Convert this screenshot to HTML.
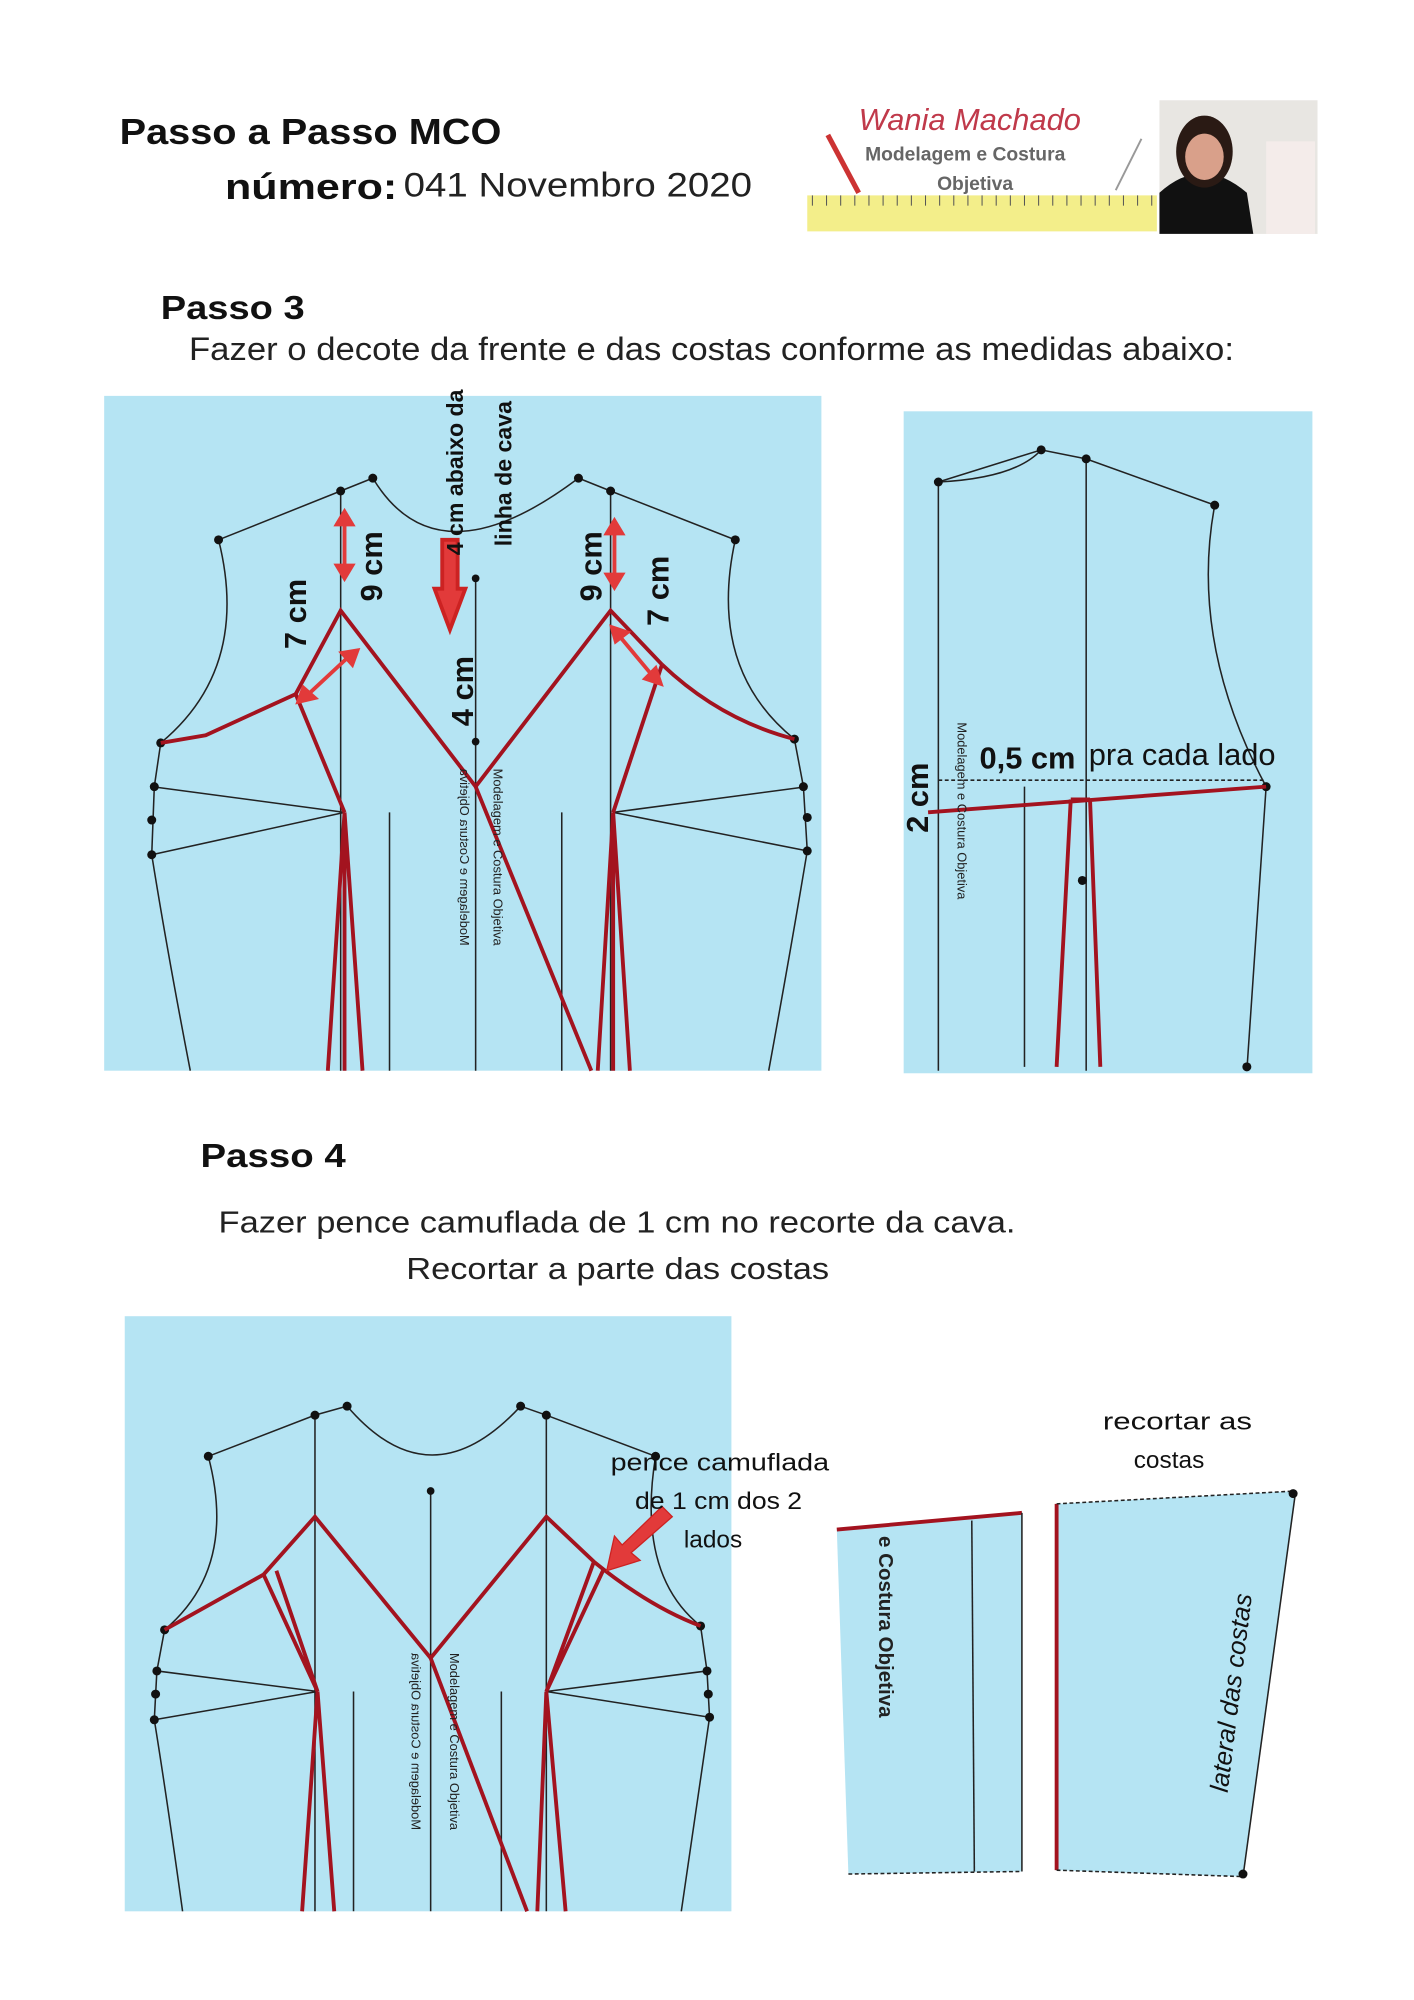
<!DOCTYPE html>
<html><head><meta charset="utf-8"><style>
html,body{margin:0;padding:0;background:#fff}
svg{display:block}
text{font-family:"Liberation Sans",sans-serif}
</style></head><body>
<svg width="1414" height="2000" viewBox="0 0 1100 1556" xmlns="http://www.w3.org/2000/svg">
<rect width="1100" height="1556" fill="#fff"/>
<!-- header -->
<text x="93" y="112" font-size="28" font-weight="bold" fill="#111" textLength="297" lengthAdjust="spacingAndGlyphs">Passo a Passo MCO</text>
<text x="175" y="155" font-size="28" font-weight="bold" fill="#111" textLength="134" lengthAdjust="spacingAndGlyphs">número:</text>
<text x="314" y="153" font-size="27" fill="#222" textLength="271" lengthAdjust="spacingAndGlyphs">041 Novembro 2020</text>
<!-- logo -->
<rect x="628" y="78" width="272" height="104" fill="#fff"/>
<text x="668" y="101" font-size="24" font-style="italic" fill="#c0394a" font-family="Liberation Serif,serif">Wania Machado</text>
<line x1="644" y1="105" x2="668" y2="150" stroke="#c33" stroke-width="4"/>
<line x1="888" y1="108" x2="868" y2="148" stroke="#999" stroke-width="1.5"/>
<text x="673" y="125" font-size="15" font-weight="bold" fill="#666">Modelagem e Costura</text>
<text x="729" y="148" font-size="15" font-weight="bold" fill="#666">Objetiva</text>
<rect x="628" y="152" width="272" height="28" fill="#f3ee8a"/>
<g stroke="#555" stroke-width="0.8">
<line x1="632" y1="152" x2="632" y2="160"/><line x1="643" y1="152" x2="643" y2="160"/><line x1="654" y1="152" x2="654" y2="160"/><line x1="665" y1="152" x2="665" y2="160"/><line x1="676" y1="152" x2="676" y2="160"/><line x1="687" y1="152" x2="687" y2="160"/><line x1="698" y1="152" x2="698" y2="160"/><line x1="709" y1="152" x2="709" y2="160"/><line x1="720" y1="152" x2="720" y2="160"/><line x1="731" y1="152" x2="731" y2="160"/><line x1="742" y1="152" x2="742" y2="160"/><line x1="753" y1="152" x2="753" y2="160"/><line x1="764" y1="152" x2="764" y2="160"/><line x1="775" y1="152" x2="775" y2="160"/><line x1="786" y1="152" x2="786" y2="160"/><line x1="797" y1="152" x2="797" y2="160"/><line x1="808" y1="152" x2="808" y2="160"/><line x1="819" y1="152" x2="819" y2="160"/><line x1="830" y1="152" x2="830" y2="160"/><line x1="841" y1="152" x2="841" y2="160"/><line x1="852" y1="152" x2="852" y2="160"/><line x1="863" y1="152" x2="863" y2="160"/><line x1="874" y1="152" x2="874" y2="160"/><line x1="885" y1="152" x2="885" y2="160"/><line x1="896" y1="152" x2="896" y2="160"/>
</g>
<rect x="902" y="78" width="123" height="104" fill="#e8e6e2"/>
<path d="M902 182 L902 150 Q935 120 970 150 L975 182Z" fill="#111"/>
<ellipse cx="937" cy="118" rx="22" ry="28" fill="#2a1a14"/>
<ellipse cx="937" cy="122" rx="15" ry="18" fill="#d9a08a"/>
<rect x="985" y="110" width="38" height="72" fill="#f4ecea"/>

<!-- Passo 3 -->
<text x="125" y="248" font-size="26" font-weight="bold" fill="#111" textLength="112" lengthAdjust="spacingAndGlyphs">Passo 3</text>
<text x="147" y="280" font-size="25" fill="#222" textLength="813" lengthAdjust="spacingAndGlyphs">Fazer o decote da frente e das costas conforme as medidas abaixo:</text>

<rect x="81" y="308" width="558" height="525" fill="#b5e4f3"/>
<rect x="703" y="320" width="318" height="515" fill="#b5e4f3"/>

<g fill="none" stroke="#222" stroke-width="1.2">
<path d="M170 420 L265 382 L290 372"/>
<path d="M290 372 Q340 455 450 372"/>
<path d="M450 372 L475 382 L572 420"/>
<path d="M170 420 Q195 520 125 578"/>
<path d="M572 420 Q550 520 618 575"/>
<path d="M125 578 L120 612 L118 665 Q130 740 148 833"/>
<path d="M618 575 L625 612 L628 662 Q615 740 598 833"/>
<path d="M118 612 L268 632 L118 665"/>
<path d="M628 612 L477 632 L628 662"/>
<line x1="265" y1="382" x2="265" y2="833"/>
<line x1="475" y1="382" x2="475" y2="833"/>
<line x1="370" y1="450" x2="370" y2="833"/>
<line x1="303" y1="632" x2="303" y2="833"/>
<line x1="437" y1="632" x2="437" y2="833"/>
<path d="M730 375 L810 350 L845 357 L945 393"/>
<path d="M810 350 Q790 372 730 375"/>
<path d="M945 393 Q925 500 985 612 L970 833"/>
<line x1="730" y1="375" x2="730" y2="833"/>
<line x1="845" y1="357" x2="845" y2="833"/>
<line x1="730" y1="607" x2="985" y2="607" stroke-dasharray="3 2"/>
<line x1="797" y1="612" x2="797" y2="830"/>
</g>
<g fill="#111">
<circle cx="170" cy="420" r="3.5"/><circle cx="265" cy="382" r="3.5"/><circle cx="290" cy="372" r="3.5"/>
<circle cx="450" cy="372" r="3.5"/><circle cx="475" cy="382" r="3.5"/><circle cx="572" cy="420" r="3.5"/>
<circle cx="125" cy="578" r="3.5"/><circle cx="618" cy="575" r="3.5"/>
<circle cx="120" cy="612" r="3.5"/><circle cx="118" cy="638" r="3.5"/><circle cx="118" cy="665" r="3.5"/>
<circle cx="625" cy="612" r="3.5"/><circle cx="628" cy="636" r="3.5"/><circle cx="628" cy="662" r="3.5"/>
<circle cx="370" cy="577" r="3"/><circle cx="370" cy="450" r="3"/>
<circle cx="730" cy="375" r="3.5"/><circle cx="810" cy="350" r="3.5"/><circle cx="845" cy="357" r="3.5"/><circle cx="945" cy="393" r="3.5"/>
<circle cx="985" cy="612" r="3.5"/><circle cx="970" cy="830" r="3.5"/><circle cx="842" cy="685" r="3.5"/>
</g>
<g fill="none" stroke="#a3131f" stroke-width="3">
<path d="M125 578 L160 572 L230 540"/>
<path d="M230 540 L265 475 L370 612 L475 475 L515 517"/>
<path d="M230 540 L268 632"/>
<path d="M515 517 L477 632"/>
<path d="M515 517 Q560 560 618 575"/>
<path d="M370 612 L460 833"/>
<path d="M268 632 L255 833 M268 632 L282 833 M268 632 L268 833"/>
<path d="M477 632 L465 833 M477 632 L490 833 M477 632 L477 833"/>
<path d="M722 632 L985 612"/>
<path d="M833 622 L822 830 M848 622 L856 830 M833 622 L848 622"/>
</g>
<g stroke="#e23a3a" stroke-width="3" fill="#e23a3a">
<line x1="268" y1="405" x2="268" y2="443"/><path d="M262 408 L268 398 L274 408Z M262 440 L268 450 L274 440Z"/>
<line x1="478" y1="412" x2="478" y2="450"/><path d="M472 415 L478 405 L484 415Z M472 447 L478 457 L484 447Z"/>
<line x1="240" y1="540" x2="270" y2="512"/><path d="M232 546 L236 535 L245 543Z M278 506 L266 508 L274 517Z"/>
<line x1="482" y1="495" x2="507" y2="525"/><path d="M476 488 L488 492 L479 499Z M514 532 L502 528 L510 520Z"/>
<path d="M344 420 L356 420 L356 458 L362 458 L350 490 L338 458 L344 458Z" stroke="#c22"/>
</g>
<g font-size="24" font-weight="bold" fill="#111">
<text transform="translate(297,468) rotate(-90)">9 cm</text>
<text transform="translate(238,505) rotate(-90)">7 cm</text>
<text transform="translate(468,468) rotate(-90)">9 cm</text>
<text transform="translate(520,487) rotate(-90)">7 cm</text>
<text transform="translate(368,565) rotate(-90)">4 cm</text>
<text transform="translate(722,648) rotate(-90)">2 cm</text>
<text x="762" y="598">0,5 cm</text>
<text x="847" y="595" font-weight="normal">pra cada lado</text>
</g>
<g font-size="18" font-weight="bold" fill="#111">
<text transform="translate(360,432) rotate(-90)">4 cm abaixo da</text>
<text transform="translate(398,425) rotate(-90)">linha de cava</text>
</g>
<g font-size="10" fill="#222">
<text transform="translate(384,598) rotate(90)">Modelagem e Costura Objetiva</text>
<text transform="translate(358,598) rotate(90) scale(-1,1)" text-anchor="end">Modelagem e Costura Objetiva</text>
<text transform="translate(745,562) rotate(90)">Modelagem e Costura Objetiva</text>
</g>

<!-- Passo 4 -->
<text x="156" y="908" font-size="26" font-weight="bold" fill="#111" textLength="113" lengthAdjust="spacingAndGlyphs">Passo 4</text>
<text x="170" y="959" font-size="24" fill="#222" textLength="620" lengthAdjust="spacingAndGlyphs">Fazer pence camuflada de 1 cm no recorte da cava.</text>
<text x="316" y="995" font-size="24" fill="#222" textLength="329" lengthAdjust="spacingAndGlyphs">Recortar a parte das costas</text>

<rect x="97" y="1024" width="472" height="463" fill="#b5e4f3"/>
<g fill="none" stroke="#222" stroke-width="1.2">
<path d="M162 1133 L245 1101 L270 1094"/>
<path d="M270 1094 Q335 1170 405 1094"/>
<path d="M405 1094 L425 1101 L510 1133"/>
<path d="M162 1133 Q185 1220 128 1268"/>
<path d="M510 1133 Q495 1225 545 1265"/>
<path d="M128 1268 L122 1300 L120 1338 Q130 1400 142 1487"/>
<path d="M545 1265 L550 1300 L552 1336 Q543 1400 530 1487"/>
<path d="M122 1300 L247 1316 L120 1338"/>
<path d="M550 1300 L425 1316 L552 1336"/>
<line x1="245" y1="1101" x2="245" y2="1487"/>
<line x1="425" y1="1101" x2="425" y2="1487"/>
<line x1="335" y1="1160" x2="335" y2="1487"/>
<line x1="275" y1="1316" x2="275" y2="1487"/>
<line x1="390" y1="1316" x2="390" y2="1487"/>
</g>
<g fill="#111">
<circle cx="162" cy="1133" r="3.5"/><circle cx="245" cy="1101" r="3.5"/><circle cx="270" cy="1094" r="3.5"/>
<circle cx="405" cy="1094" r="3.5"/><circle cx="425" cy="1101" r="3.5"/><circle cx="510" cy="1133" r="3.5"/>
<circle cx="128" cy="1268" r="3.5"/><circle cx="545" cy="1265" r="3.5"/>
<circle cx="122" cy="1300" r="3.5"/><circle cx="121" cy="1318" r="3.5"/><circle cx="120" cy="1338" r="3.5"/>
<circle cx="550" cy="1300" r="3.5"/><circle cx="551" cy="1318" r="3.5"/><circle cx="552" cy="1336" r="3.5"/>
<circle cx="335" cy="1160" r="3"/>
</g>
<g fill="none" stroke="#a3131f" stroke-width="3">
<path d="M128 1268 L205 1225 L245 1180 L335 1290 L425 1180 L462 1215 Q505 1250 545 1265"/>
<path d="M205 1225 L247 1316 M215 1222 L247 1316"/>
<path d="M462 1215 L425 1316 M470 1220 L425 1316"/>
<path d="M335 1290 L410 1487"/>
<path d="M247 1316 L235 1487 M247 1316 L260 1487"/>
<path d="M425 1316 L418 1487 M425 1316 L440 1487"/>
</g>
<path d="M523 1180 L515 1172 L484 1202 L478 1195 L472 1222 L498 1214 L491 1208Z" fill="#e23a3a" stroke="#c22" stroke-width="1"/>
<g font-size="19" fill="#111">
<text x="475" y="1144" textLength="170" lengthAdjust="spacingAndGlyphs">pence camuflada</text>
<text x="494" y="1174" textLength="130" lengthAdjust="spacingAndGlyphs">de 1 cm dos 2</text>
<text x="532" y="1204">lados</text>
<text x="858" y="1112" textLength="116" lengthAdjust="spacingAndGlyphs">recortar as</text>
<text x="882" y="1142">costas</text>
</g>
<g font-size="10" fill="#222">
<text transform="translate(350,1286) rotate(90)">Modelagem e Costura Objetiva</text>
<text transform="translate(320,1286) rotate(90) scale(-1,1)" text-anchor="end">Modelagem e Costura Objetiva</text>
</g>

<polygon points="651,1190 795,1177 795,1456 660,1458" fill="#b5e4f3"/>
<path d="M651 1190 L795 1177" stroke="#a3131f" stroke-width="3" fill="none"/>
<g fill="none" stroke="#222" stroke-width="1.2">
<line x1="795" y1="1177" x2="795" y2="1456"/><line x1="756" y1="1183" x2="758" y2="1456"/>
<line x1="660" y1="1458" x2="795" y2="1456" stroke-dasharray="3 2"/>
</g>
<text transform="translate(684,1195) rotate(90)" font-size="16" font-weight="bold" fill="#222">e Costura Objetiva</text>
<polygon points="822,1170 1008,1160 967,1460 822,1455" fill="#b5e4f3"/>
<path d="M822 1170 L822 1455" stroke="#a3131f" stroke-width="3" fill="none"/>
<g fill="none" stroke="#222" stroke-width="1.2">
<line x1="822" y1="1170" x2="1008" y2="1160" stroke-dasharray="3 2"/>
<line x1="1008" y1="1160" x2="967" y2="1460"/>
<line x1="822" y1="1455" x2="967" y2="1460" stroke-dasharray="3 2"/>
</g>
<circle cx="1006" cy="1162" r="3.5" fill="#111"/><circle cx="967" cy="1458" r="3.5" fill="#111"/>
<text transform="translate(955,1395) rotate(-83)" font-size="20" font-style="italic" fill="#111">lateral das costas</text>
</svg>
</body></html>
